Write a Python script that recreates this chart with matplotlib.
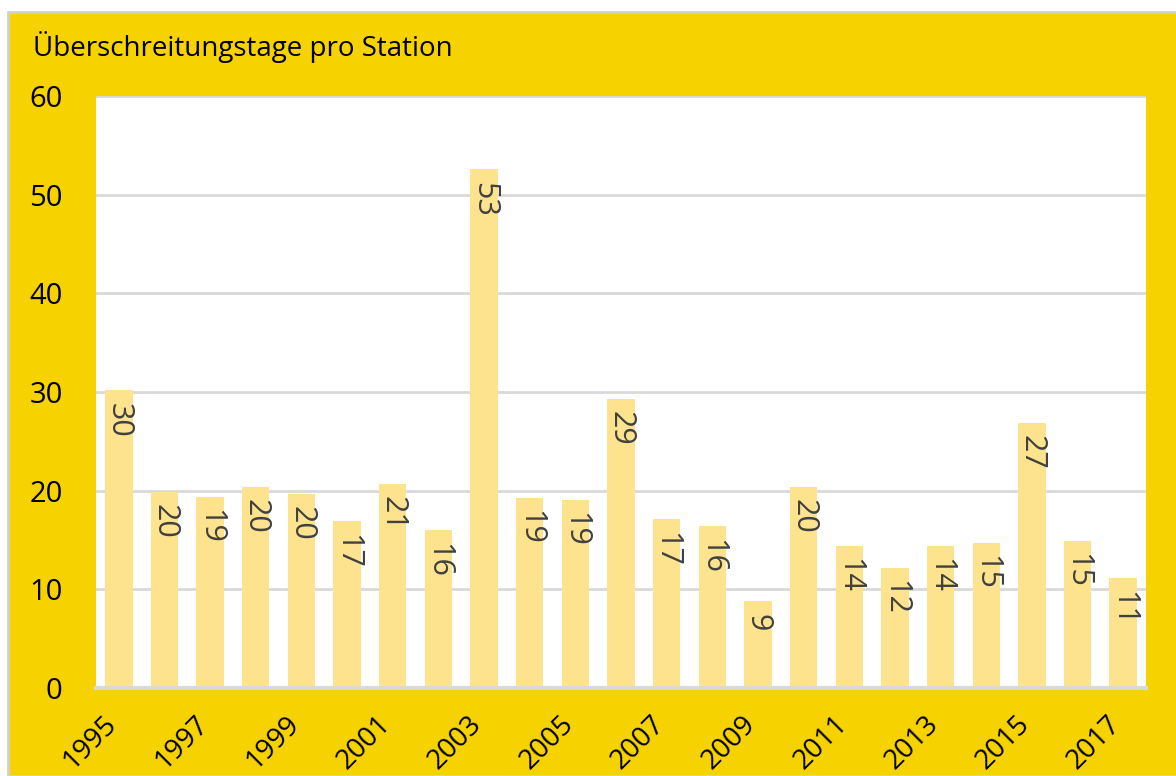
import matplotlib.pyplot as plt
import matplotlib.transforms as mtransforms
from matplotlib.patches import Rectangle

years = list(range(1995, 2018))
days = [30.2, 19.9, 19.4, 20.4, 19.7, 16.9, 20.7, 16.0, 52.6, 19.3, 19.1, 29.3,
        17.1, 16.4, 8.8, 20.4, 14.4, 12.2, 14.4, 14.7, 26.9, 14.9, 11.1]
title = "Überschreitungstage pro Station"

yellow = '#F5D200'
bar_col = '#FDE38E'
grid_col = '#D9D9D9'

plt.rcParams['font.family'] = ['Open Sans', 'DejaVu Sans']

fig = plt.figure(figsize=(11.76, 7.76), dpi=100)
fig.patch.set_facecolor('white')
fig.patches.append(Rectangle((8 / 1176, 0), 1, 1 - 12 / 776, transform=fig.transFigure,
                             facecolor=yellow, edgecolor='#D0D0D0', linewidth=2, zorder=-1))

ax = fig.add_axes([96 / 1176, 88 / 776, 1050 / 1176, 592 / 776])
ax.set_facecolor('white')

x = list(range(len(years)))
ax.bar(x, days, width=0.6, color=bar_col, zorder=2)

for xi, v in zip(x, days):
    ax.annotate(f"{round(v)}", (xi, v), xytext=(0, -9), textcoords='offset points',
                rotation=270, ha='center', va='top', fontsize=22, color='#404040', zorder=3)

ax.set_xlim(-0.5, len(years) - 0.5)
ax.set_ylim(0, 60)
ax.set_yticks(range(0, 61, 10))
ax.yaxis.grid(True, color=grid_col, linewidth=2, zorder=1)
ax.set_axisbelow(True)

ax.set_xticks(x[::2])
ax.set_xticklabels([str(y) for y in years[::2]], rotation=45, ha='right',
                   rotation_mode='anchor', fontsize=20)
ax.tick_params(axis='x', length=0, pad=16)
ax.tick_params(axis='y', length=0, pad=24, labelsize=21)
# shift year labels a bit to the left, like the original
shift = mtransforms.ScaledTranslation(-0.16, 0, fig.dpi_scale_trans)
for lab in ax.get_xticklabels():
    lab.set_transform(lab.get_transform() + shift)

for s in ['top', 'right', 'left']:
    ax.spines[s].set_visible(False)
ax.spines['bottom'].set_color(grid_col)
ax.spines['bottom'].set_linewidth(3)

fig.text(33 / 1176, 1 - 47 / 776, title, fontsize=20, va='center', ha='left', color='black')

fig.savefig('out.png', dpi=100, facecolor=fig.get_facecolor())
